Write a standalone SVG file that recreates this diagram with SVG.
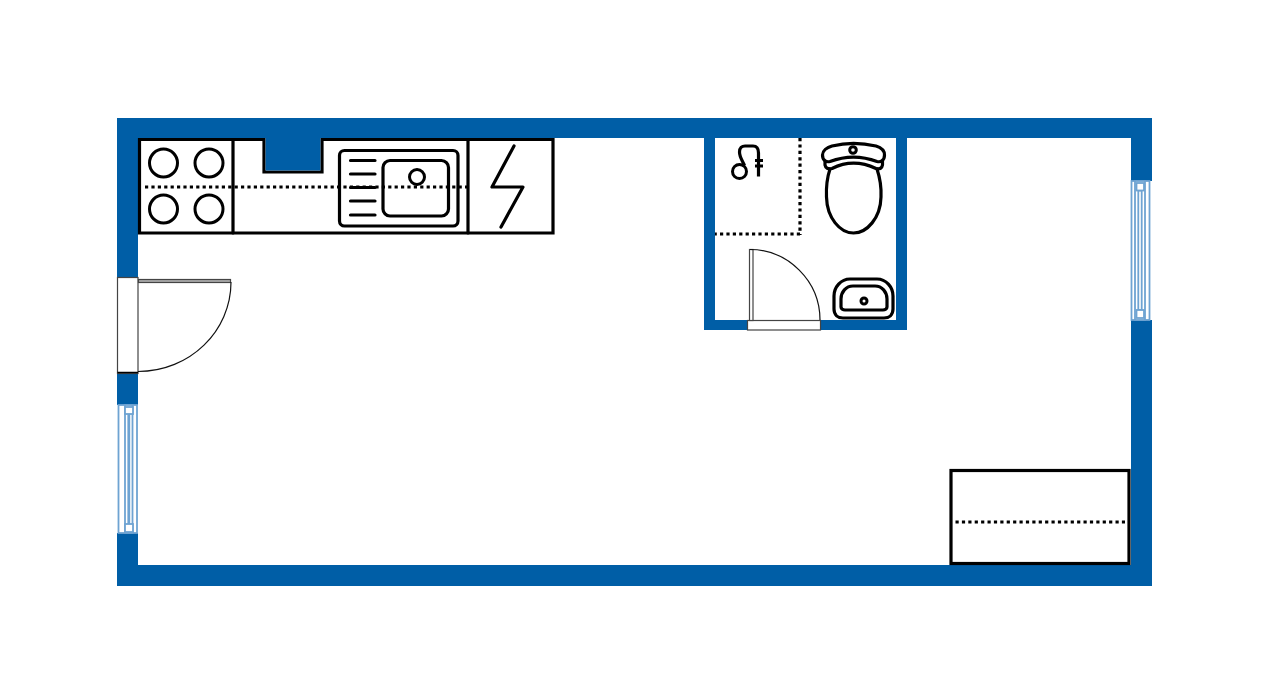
<svg xmlns="http://www.w3.org/2000/svg" width="1280" height="695" viewBox="0 0 1280 695">
<defs>
<style>
.wall{fill:#005ea6}
.line{fill:none;stroke:#000;stroke-width:3.2;stroke-linejoin:round;stroke-linecap:round}
.thin{fill:none;stroke:#000;stroke-width:3}
.dot{fill:none;stroke:#000;stroke-width:3.2;stroke-dasharray:3.2 3.2}
.door{fill:#fff;stroke:#444;stroke-width:1.2}
.arc{fill:none;stroke:#111;stroke-width:1.2}
.win{fill:#fff;stroke:#6ea3d2;stroke-width:1.8}
</style>
</defs>
<rect width="1280" height="695" fill="#fff"/>
<g id="walls">
<path class="wall" fill-rule="evenodd" d="M117 118H1152V586H117ZM138 138V565H1131V138Z"/>
<path class="wall" d="M704 138H715V320H896V138H907V330H704Z"/>
</g>
<g id="kitchen">
<path d="M139.500 139.500H264V172H322V139.500H553V233H139.500Z" fill="#fff" stroke="#000" stroke-width="3.200"/>
<path class="wall" d="M265.600 138H320.400V170.400H265.600Z"/>
<path class="line" d="M233 139.500V233M468 139.500V233"/>
<circle class="thin" cx="163.500" cy="163" r="14"/>
<circle class="thin" cx="209" cy="163" r="14"/>
<circle class="thin" cx="163.500" cy="209" r="14"/>
<circle class="thin" cx="209" cy="209" r="14"/>
<path class="dot" d="M145 187H468"/>
<rect class="line" x="339.500" y="150.500" width="118.500" height="75.500" rx="5"/>
<rect class="line" x="383" y="160.500" width="65.500" height="55.500" rx="7"/>
<circle cx="417" cy="177" r="7.500" fill="#fff" stroke="#000" stroke-width="3"/>
<path class="line" d="M350.500 160.500H375M350.500 174H375M350.500 187.500H375M350.500 201H375M350.500 215H375"/>
<path class="line" d="M514 146L492 187H523L501 227"/>
</g>
<g id="bathroom">
<path class="dot" d="M800 138V235M800 234H715"/>
<g id="shower">
<circle class="thin" cx="739.500" cy="171.500" r="7"/>
<path class="line" d="M744.500 165.500C742 160 739.500 157 739.500 152C739.500 148 742 146 745 146H753C757 146 758.500 149 758.500 153V176.500M755 160.500H763M755 166H763" style="stroke-linecap:butt"/>
</g>
<g id="toilet">
<path class="line" d="M830 169C827 178 826 186 826.500 197C827 218 840 233 853.500 233C867 233 880.500 218 881 197C881.500 186 880 178 877 169"/>
<path class="line" d="M832 146C846 142.500 861 142.500 876 146C881 147.500 884.500 151 884.500 155C884.500 160 881 162.500 877 161.500C861 155.500 846 155.500 830 161.500C826 162.500 822.500 160 822.500 155C822.500 151 827 147.500 832 146Z"/>
<path class="line" d="M825 161V165C825.500 168 828 169.500 832 168.500C846 161.500 861 161.500 876 168.500C880 169.500 882 168 882.500 165V161"/>
<circle class="thin" cx="853" cy="150" r="3.300"/>
</g>
<g id="basin">
<path class="line" d="M850 279H877C886 279 893 287 893 296V309C893 315 889 318 884 318H843C838 318 834 315 834 309V296C834 287 841 279 850 279Z"/>
<path class="line" d="M853 286H875C882 286 887 292 887 299V307C887 309 885 310 883 310H845C843 310 841 309 841 307V299C841 292 846 286 853 286Z"/>
<circle class="thin" cx="864" cy="301" r="3"/>
</g>
<g id="bath-door">
<rect class="door" x="747.500" y="320.500" width="73" height="9.500"/>
<rect class="door" x="749.500" y="249.500" width="3.500" height="71"/>
<path class="arc" d="M750 249.500C788 249.500 820 281 820 320"/>
</g>
</g>
<g id="entry-door">
<rect x="117.500" y="277.500" width="20.500" height="96" fill="#fff" stroke="#444" stroke-width="1.200"/>
<path d="M117.500 372.500H138" stroke="#000" stroke-width="1.500"/>
<rect class="door" x="138.500" y="279.500" width="92" height="3" style="fill:#aaa"/>
<path class="arc" d="M231 282C231 331 190 371.500 138 371.500"/>
</g>
<g id="window-left">
<rect x="117" y="405" width="21" height="128" fill="#fff"/>
<rect class="win" x="118.500" y="405" width="18.500" height="128" style="fill:none"/>
<rect class="win" x="125" y="405" width="7.500" height="128"/>
<rect class="win" x="128.300" y="414" width="1" height="110"/>
<rect class="win" x="125" y="407" width="8" height="7"/>
<rect class="win" x="125" y="524" width="8" height="8"/>
</g>
<g id="window-right">
<rect x="1131" y="181" width="21" height="139" fill="#fff"/>
<rect class="win" x="1131.500" y="181" width="18" height="139" style="fill:none"/>
<rect class="win" x="1135" y="181" width="10" height="139"/>
<rect class="win" x="1138.300" y="190.500" width="3.400" height="119.500"/>
<rect class="win" x="1136.500" y="183" width="7.500" height="7.500"/>
<rect class="win" x="1136.500" y="310" width="7.500" height="8"/>
</g>
<g id="bed">
<rect x="951" y="470.500" width="178" height="93" fill="#fff" stroke="#000" stroke-width="3.200"/>
<path class="dot" d="M955.500 522H1125"/>
</g>
</svg>
